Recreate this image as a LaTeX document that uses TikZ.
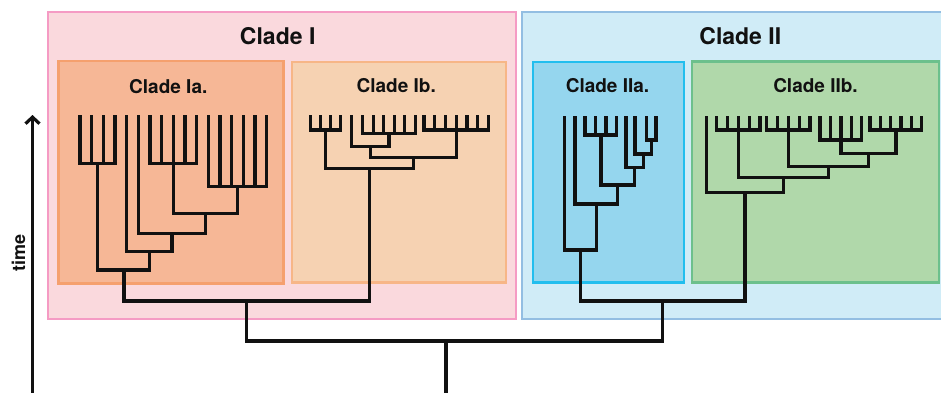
\documentclass[tikz,border=0pt]{standalone}
\usepackage{fontspec}
\setmainfont{TeX Gyre Heros}
\usetikzlibrary{arrows.meta}
\definecolor{cIfill}{HTML}{FAD9DD}
\definecolor{cIline}{HTML}{F59BC4}
\definecolor{cIIfill}{HTML}{D0ECF7}
\definecolor{cIIline}{HTML}{93BEE2}
\definecolor{cIafill}{HTML}{F6B796}
\definecolor{cIaline}{HTML}{F5A06E}
\definecolor{cIbfill}{HTML}{F6D2B2}
\definecolor{cIbline}{HTML}{F7B687}
\definecolor{cIIafill}{HTML}{95D6EE}
\definecolor{cIIaline}{HTML}{22BEEE}
\definecolor{cIIbfill}{HTML}{B0D8AA}
\definecolor{cIIbline}{HTML}{6CC08C}
\definecolor{ink}{HTML}{111111}
\tikzset{
  cladebox/.style={line width=2.8pt},
  tree/.style={draw=ink, line width=3.4pt, line join=miter, line cap=butt},
  bigtitle/.style={anchor=base, text=ink, font=\bfseries\fontsize{23}{27}\selectfont, inner sep=0pt},
  subtitle/.style={anchor=base, text=ink, font=\bfseries\fontsize{19}{22}\selectfont, inner sep=0pt},
}
\begin{document}
\begin{tikzpicture}[x=1pt,y=-1pt]
\useasboundingbox (0,0) rectangle (941,392);
\clip (0,0) rectangle (941,392);
\fill[white] (0,0) rectangle (941,392);
% boxes
\draw[cladebox, draw=cIline, fill=cIfill] (48,12) rectangle (516,319);
\draw[cladebox, draw=cIIline, fill=cIIfill] (522,12) rectangle (965,319);
\draw[cladebox, draw=cIaline, fill=cIafill] (58.5,61) rectangle (283.5,283.5);
\draw[cladebox, draw=cIbline, fill=cIbfill] (292,62) rectangle (506,282.5);
\draw[cladebox, draw=cIIaline, fill=cIIafill] (533,62) rectangle (684,282.5);
\draw[cladebox, draw=cIIbline, fill=cIIbfill] (692,61.5) rectangle (939,282.5);
% titles
\node[bigtitle] (tI) at (277.7,44) {Clade I};
\node[bigtitle] (tII) at (740.3,44) {Clade II};
\node[subtitle] (tIa) at (168.3,93) {Clade Ia.};
\node[subtitle] (tIb) at (396.2,92.7) {Clade Ib.};
\node[subtitle] (tIIa) at (607.5,92.7) {Clade IIa.};
\node[subtitle] (tIIb) at (815.5,92.7) {Clade IIb.};
% time axis
\coordinate (tbase) at (32.5,400);
\coordinate (ttip) at (32.5,115);
\draw[draw=ink, line width=3.2pt, -{Straight Barb[length=6.5pt,width=14pt]}] (tbase) -- (ttip);
\node[rotate=90, anchor=base, text=ink, font=\bfseries\fontsize{18}{20}\selectfont, inner sep=0pt] (time) at (25,252.5) {time};
% ---- Clade Ia
\draw[tree] (80,115) |- (115,163.3) -- (115,115);
\foreach \x in {91.67,103.33} \draw[tree] (\x,115) -- (\x,163.3);
\draw[tree] (150,115) |- (196.67,163.3) -- (196.67,115);
\foreach \x in {161.67,173.33,185} \draw[tree] (\x,115) -- (\x,163.3);
\draw[tree] (208.33,115) |- (266.67,186.7) -- (266.67,115);
\foreach \x in {220,231.67,243.33,255} \draw[tree] (\x,115) -- (\x,186.7);
\draw[tree] (173.33,163.3) |- (237.5,213.3) -- (237.5,186.7);
\draw[tree] (138.33,115) |- (205.4,233.3) -- (205.4,213.3);
\draw[tree] (126.67,115) |- (172,251.7) -- (172,233.3);
\draw[tree] (97.5,163.3) |- (149.3,270) -- (149.3,251.7);
% ---- Clade Ib
\draw[tree] (310.7,115) |- (340.7,130) -- (340.7,115);
\foreach \x in {320.7,330.7} \draw[tree] (\x,115) -- (\x,130);
\draw[tree] (362.7,115) |- (415.2,133.3) -- (415.2,115);
\foreach \x in {373.2,383.7,394.2,404.7} \draw[tree] (\x,115) -- (\x,133.3);
\draw[tree] (424,115) |- (488.3,130) -- (488.3,115);
\foreach \x in {434.7,445.4,456.2,466.9,477.6} \draw[tree] (\x,115) -- (\x,130);
\draw[tree] (351.7,115) |- (388.95,146.7) -- (388.95,133.3);
\draw[tree] (370.3,146.7) |- (456.2,157.7) -- (456.2,130);
\draw[tree] (325.7,130) |- (413.25,168.3) -- (413.25,157.7);
% ---- Clade I root
\draw[tree] (124,270) |- (369.5,301) -- (369.5,168.3);
% ---- Clade IIa
\draw[tree] (585,116) |- (616.7,135) -- (616.7,116);
\foreach \x in {595.57,606.13} \draw[tree] (\x,116) -- (\x,135);
\draw[tree] (646.7,116) |- (656,140) -- (656,116);
\draw[tree] (635,116) |- (651.35,154) -- (651.35,140);
\draw[tree] (626,116) |- (643.2,167.3) -- (643.2,154);
\draw[tree] (600.85,135) |- (634.6,185) -- (634.6,167.3);
\draw[tree] (575,116) |- (617.7,204) -- (617.7,185);
\draw[tree] (564.3,116) |- (596.35,250) -- (596.35,204);
% ---- Clade IIb
\draw[tree] (716.7,116) |- (760,130) -- (760,116);
\foreach \x in {727.5,738.35,749.2} \draw[tree] (\x,116) -- (\x,130);
\draw[tree] (766.7,116) |- (810,130) -- (810,116);
\foreach \x in {777.5,788.35,799.2} \draw[tree] (\x,116) -- (\x,130);
\draw[tree] (820,116) |- (861.7,140) -- (861.7,116);
\foreach \x in {830.4,840.85,851.3} \draw[tree] (\x,116) -- (\x,140);
\draw[tree] (870,116) |- (921.7,130) -- (921.7,116);
\foreach \x in {880.34,890.68,901.02,911.36} \draw[tree] (\x,116) -- (\x,130);
\draw[tree] (840.85,140) |- (895.85,153.3) -- (895.85,130);
\draw[tree] (788.35,130) |- (868.35,166.7) -- (868.35,153.3);
\draw[tree] (738.35,130) |- (828.35,177.7) -- (828.35,166.7);
\draw[tree] (706.7,116) |- (783.35,192.3) -- (783.35,177.7);
% ---- Clade II root
\draw[tree] (580.3,250) |- (745,301) -- (745,192.3);
% ---- overall root
\draw[tree] (246.75,301) |- (662.65,341) -- (662.65,301);
\draw[tree] (446,341) -- (446,400);
\end{tikzpicture}
\end{document}
